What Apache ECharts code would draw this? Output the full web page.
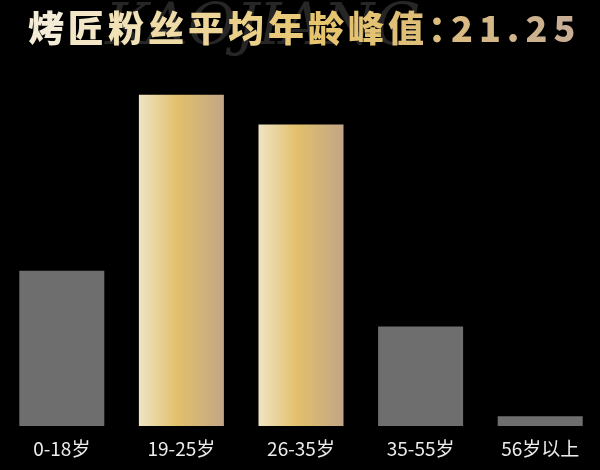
<!DOCTYPE html>
<html><head><meta charset="utf-8">
<script src="https://cdn.jsdelivr.net/npm/echarts@6/dist/echarts.min.js"></script>
<style>html,body{margin:0;padding:0;background:#000;}#c{width:600px;height:470px;}</style>
</head><body><div id="c"></div>
<script>
var categories = ['0-18岁', '19-25岁', '26-35岁', '35-55岁', '56岁以上'];
var values = [17.3, 36.9, 33.6, 11.1, 1.1];
var highlight = [false, true, true, false, false];
var titleText = '烤匠粉丝平均年龄峰值：21.25';

var gold = new echarts.graphic.LinearGradient(0, 0, 1, 0, [
  {offset: 0, color: '#efe4c4'},
  {offset: 0.45, color: '#e2c06c'},
  {offset: 1, color: '#c2a686'}
]);

// per-character colour along a horizontal gradient for the title
var stops = [[0, [244, 236, 214]], [0.45, [232, 198, 110]], [1, [200, 174, 148]]];
function colorAt(t) {
  for (var i = 0; i < stops.length - 1; i++) {
    var a = stops[i], b = stops[i + 1];
    if (t <= b[0]) {
      var k = (t - a[0]) / (b[0] - a[0]);
      var c = a[1].map(function (v, j) { return Math.round(v + (b[1][j] - v) * k); });
      return 'rgb(' + c.join(',') + ')';
    }
  }
  return 'rgb(' + stops[stops.length - 1][1].join(',') + ')';
}
var chars = titleText.split('');
var rich = {};
var parts = chars.map(function (ch, i) {
  var isDigit = /[0-9.]/.test(ch);
  var st = {
    fill: colorAt(i / (chars.length - 1)),
    fontSize: 36,
    fontWeight: 900,
    fontFamily: 'Noto Sans CJK SC',
    padding: isDigit ? [0, 3, 0, 3] : [0, 2, 0, 2]
  };
  if (ch === '：') { st.width = 20; st.align = 'left'; st.padding = [0, 0, 0, 2]; }
  rich['c' + i] = st;
  return '{c' + i + '|' + ch + '}';
});

var chart = echarts.init(document.getElementById('c'));
chart.setOption({
  backgroundColor: '#000',
  animation: false,
  grid: {left: 2, right: 0, top: 67, bottom: 44},
  xAxis: {
    type: 'category',
    data: categories,
    axisLine: {show: false},
    axisTick: {show: false},
    axisLabel: {color: '#ececec', fontSize: 19, margin: 13, fontFamily: 'Noto Sans CJK SC'}
  },
  yAxis: {type: 'value', min: 0, max: 40, show: false, splitLine: {show: false}},
  graphic: [
    {type: 'text', left: 105, top: 0, z: 1,
     style: {text: 'KAOJIANG', fill: '#262626', font: 'italic 58px "DejaVu Serif"'}},
    {type: 'text', left: 28, top: 10, z: 10,
     style: {text: parts.join(''), rich: rich}}
  ],
  series: [{
    type: 'bar',
    barWidth: 85,
    data: values.map(function (v, i) {
      return {value: v, itemStyle: {color: highlight[i] ? gold : '#6e6e6e'}};
    })
  }]
});
</script></body></html>
